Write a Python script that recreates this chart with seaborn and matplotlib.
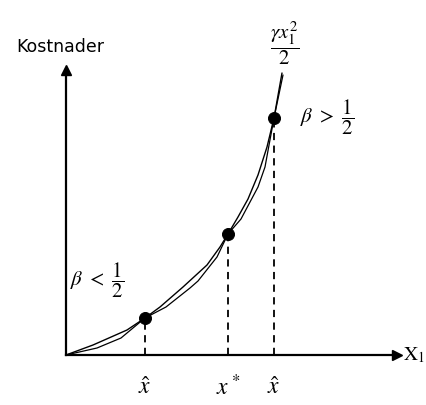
import matplotlib
matplotlib.use("Agg")
import matplotlib.pyplot as plt
import seaborn as sns
import pandas as pd

# Cost curve gamma*x1^2/2
cost_x = [0, 0.27, 0.61, 0.79, 0.94, 1.17, 1.41, 1.54, 1.62, 1.72, 1.82, 1.92, 2.01, 2.08, 2.16]
cost_y = [0, 0.10, 0.25, 0.37, 0.48, 0.68, 0.90, 1.08, 1.21, 1.38, 1.56, 1.80, 2.08, 2.37, 2.82]

# Approximating cost curve that touches the first one at the marked points
approx_x = [0, 0.31, 0.55, 0.79, 1.00, 1.24, 1.32, 1.51, 1.62, 1.75, 1.92, 1.99, 2.08, 2.17]
approx_y = [0, 0.07, 0.17, 0.37, 0.48, 0.67, 0.74, 0.98, 1.21, 1.36, 1.68, 1.88, 2.37, 2.80]

# Marked points: x-hat (low), x*, x-hat (high)
point_x = [0.79, 1.62, 2.08]
point_y = [0.37, 1.21, 2.37]
point_labels = [r"$\hat{x}$", r"$x^*$", r"$\hat{x}$"]

sns.set_theme(style="white")
plt.rcParams["mathtext.fontset"] = "stix"
plt.rcParams["font.family"] = ["DejaVu Sans"]
plt.rcParams["text.color"] = "black"

fig = plt.figure(figsize=(4.27, 4.05), dpi=100)
ax = fig.add_axes([66 / 427, 50 / 405, 331 / 427, 285 / 405])

df_cost = pd.DataFrame({"x": cost_x, "y": cost_y})
df_approx = pd.DataFrame({"x": approx_x, "y": approx_y})
sns.lineplot(data=df_cost, x="x", y="y", ax=ax, color="black", lw=1.0, sort=False)
sns.lineplot(data=df_approx, x="x", y="y", ax=ax, color="black", lw=0.9, sort=False)

# dashed drop lines
ax.vlines(point_x, 0, point_y, colors="black", linestyles=(0, (4, 3)), lw=1.3)

df_pts = pd.DataFrame({"x": point_x, "y": point_y})
sns.scatterplot(data=df_pts, x="x", y="y", ax=ax, color="black", s=75,
                edgecolor="black", zorder=5)

ax.set_xlim(0, 3.31)
ax.set_ylim(0, 2.85)
ax.set_xticks([])
ax.set_yticks([])
ax.set_xlabel("")
ax.set_ylabel("")
for side in ("top", "right"):
    ax.spines[side].set_visible(False)
for side in ("left", "bottom"):
    ax.spines[side].set_color("black")
    ax.spines[side].set_linewidth(1.6)

# arrow heads on the axes
ax.plot(1, 0, marker=">", color="black", ms=7, transform=ax.transAxes, clip_on=False)
ax.plot(0, 1, marker="^", color="black", ms=7, transform=ax.transAxes, clip_on=False)

for x, lab in zip(point_x, point_labels):
    ax.text(x, -0.32, lab, ha="center", va="center", fontsize=17, clip_on=False)

ax.text(-0.06, 3.08, "Kostnader", ha="center", va="center", fontsize=12.5, clip_on=False)
ax.text(3.37, 0.0, r"$\mathrm{X}_1$", ha="left", va="center", fontsize=14, clip_on=False)
ax.text(2.19, 3.12, r"$\dfrac{\gamma x_1^2}{2}$", ha="center", va="center", fontsize=15, clip_on=False)
ax.text(2.34, 2.38, r"$\beta\ >\ \dfrac{1}{2}$", ha="left", va="center", fontsize=15, clip_on=False)
ax.text(0.04, 0.75, r"$\beta\ <\ \dfrac{1}{2}$", ha="left", va="center", fontsize=15, clip_on=False)

fig.savefig("out.png", dpi=100)
